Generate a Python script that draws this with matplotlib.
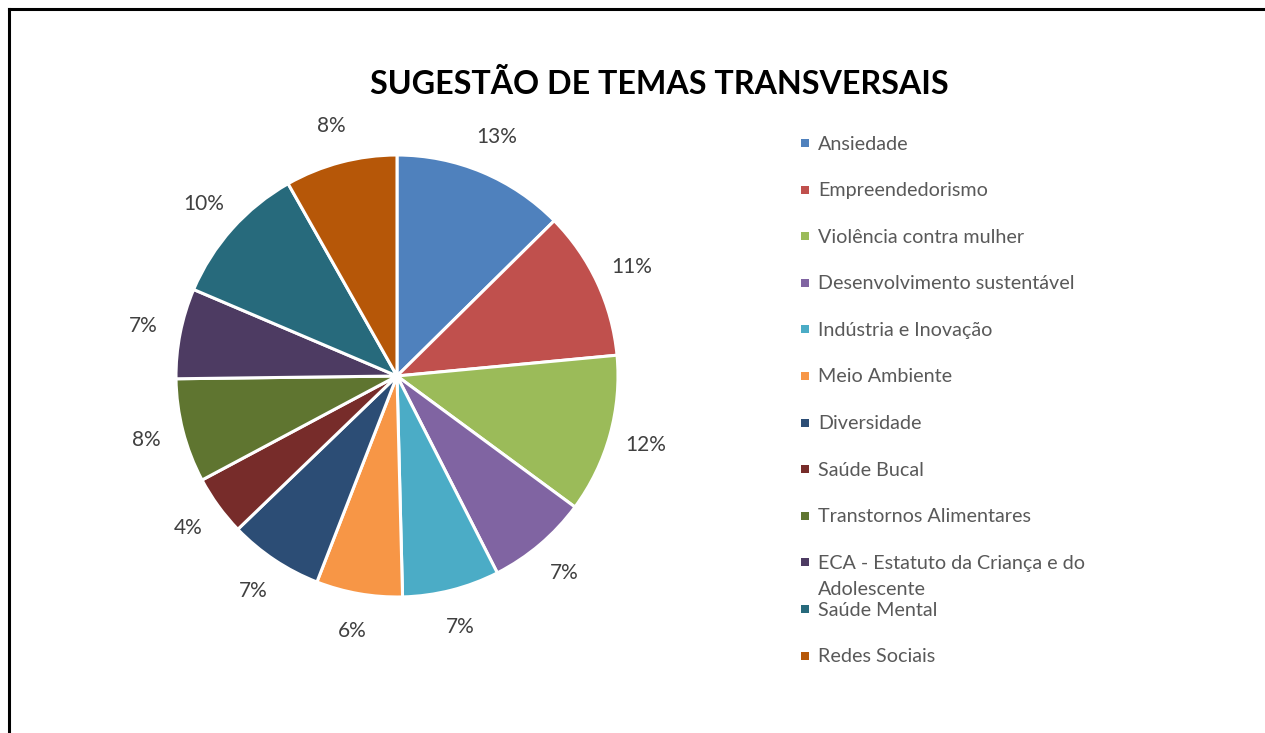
import matplotlib
matplotlib.use("Agg")
import matplotlib.pyplot as plt
from matplotlib.lines import Line2D
from matplotlib.patches import Rectangle

categories = ["Ansiedade", "Empreendedorismo", "Violência contra mulher",
              "Desenvolvimento sustentável", "Indústria e Inovação", "Meio Ambiente",
              "Diversidade", "Saúde Bucal", "Transtornos Alimentares",
              "ECA - Estatuto da Criança e do\nAdolescente", "Saúde Mental", "Redes Sociais"]
values = [12.6, 10.9, 11.6, 7.4, 7.1, 6.3, 6.9, 4.4, 7.6, 6.6, 10.4, 8.2]
colors = ["#4F81BD", "#C0504D", "#9BBB59", "#8064A2", "#4BACC6", "#F79646",
          "#2C4D75", "#772C2A", "#5F7530", "#4D3B62", "#276A7C", "#B65708"]
title = "SUGESTÃO DE TEMAS TRANSVERSAIS"

W, H = 1265, 733
fig = plt.figure(figsize=(W / 100, H / 100), dpi=100)
fig.patch.set_facecolor("white")

FONT = ["Lato", "DejaVu Sans"]

# pie axes: center (397,376) px, radius 221 px
cx, cy, r = 397, 376, 221
ax = fig.add_axes([(cx - r) / W, (H - cy - r) / H, 2 * r / W, 2 * r / H])
wedges, texts, autotexts = ax.pie(
    values, colors=colors, startangle=90, counterclock=False,
    autopct="%.0f%%", pctdistance=1.17,
    wedgeprops=dict(edgecolor="white", linewidth=2.2),
    textprops=dict(color="#404040", fontsize=15, family=FONT))
ax.set_xlim(-1, 1)
ax.set_ylim(-1, 1)
ax.set_aspect("equal")

fig.text(659 / W, 1 - 84 / H, title, ha="center", va="center",
         fontsize=23.2, fontweight="bold", family=FONT, color="black")

# legend drawn manually
y0, dy = 143, 46.6
for i, (lab, col) in enumerate(zip(categories, colors)):
    yc = y0 + i * dy
    fig.add_artist(Rectangle((801 / W, 1 - (yc + 4) / H), 8 / W, 8 / H,
                             transform=fig.transFigure, facecolor=col,
                             edgecolor="none"))
    for k, line in enumerate(lab.split("\n")):
        fig.text(818 / W, 1 - (yc + 6.5 + 26 * k) / H, line, ha="left",
                 va="baseline", fontsize=14.2, family=FONT, color="#595959")

# outer frame (left and top edges)
fig.add_artist(Line2D([8.5 / W, 8.5 / W], [0, 1 - 9 / H], color="black",
                      linewidth=2.2, transform=fig.transFigure,
                      solid_capstyle="projecting"))
fig.add_artist(Line2D([8.5 / W, 1], [1 - 9 / H, 1 - 9 / H], color="black",
                      linewidth=2.2, transform=fig.transFigure,
                      solid_capstyle="projecting"))

fig.savefig("out.png", dpi=100, facecolor="white")
